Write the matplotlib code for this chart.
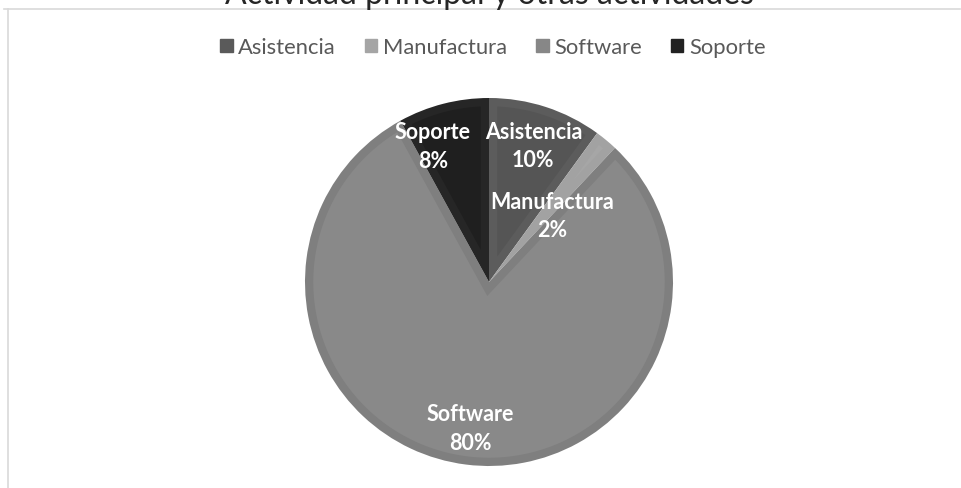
import matplotlib.pyplot as plt
from matplotlib.lines import Line2D
from matplotlib.patches import Polygon
import numpy as np

# Data
labels = ['Asistencia', 'Manufactura', 'Software', 'Soporte']
values = [10, 2, 80, 8]
title = 'Actividad principal y otras actividades'

# Styles
outer_cols = ['#5c5c5c', '#a2a2a2', '#7f7f7f', '#262626']
inner_cols = ['#555555', '#a6a6a6', '#898989', '#1f1f1f']
lab_dist = [0.78, 0.50, 0.80, 0.80]
lab_shift = [0, -4, 0, 8]  # degrees
bevel = 0.045  # bevel width, in pie radii

plt.rcParams['font.family'] = ['Lato', 'DejaVu Sans']

W, H = 961, 489
fig = plt.figure(figsize=(W / 100, H / 100), dpi=100)

# chart frame (partially visible)
fig.add_artist(Line2D([4 / W, 960 / W], [1 - 9.5 / H, 1 - 9.5 / H], color='#d9d9d9', lw=1.2))
fig.add_artist(Line2D([7.5 / W, 7.5 / W], [1 - 9.5 / H, 0], color='#d9d9d9', lw=1.2))

fig.text(489 / W, 1 - 4 / H, title, ha='center', va='baseline', fontsize=23, color='#262626')

cx, cy, r = 489, 283, 184
ax = fig.add_axes([(cx - r) / W, (H - cy - r) / H, 2 * r / W, 2 * r / H])

wedges, _ = ax.pie(values, colors=outer_cols, startangle=90, counterclock=False,
                   radius=1, wedgeprops=dict(linewidth=0))


def inset_wedge(t1, t2, d, rho):
    # wedge shrunk by d from both straight edges, arc at radius rho
    a1, a2 = np.deg2rad(t1), np.deg2rad(t2)
    half = (a2 - a1) / 2
    mid = (a1 + a2) / 2
    p = d / np.sin(half) * np.array([np.cos(mid), np.sin(mid)])
    ends = []
    for a in (a1, a2):
        u = np.array([np.cos(a), np.sin(a)])
        pu = p @ u
        s = -pu + np.sqrt(pu ** 2 - p @ p + rho ** 2)
        e = p + s * u
        ends.append(np.arctan2(e[1], e[0]))
    f1, f2 = ends
    while f2 < f1:
        f2 += 2 * np.pi
    arc = np.linspace(f1, f2, 200)
    pts = np.vstack([p, np.column_stack([rho * np.cos(arc), rho * np.sin(arc)])])
    return pts


for w, c in zip(wedges, inner_cols):
    pts = inset_wedge(w.theta1, w.theta2, bevel, 1 - bevel)
    ax.add_patch(Polygon(pts, closed=True, facecolor=c, edgecolor='none'))

total = sum(values)
for w, lab, v, d, s in zip(wedges, labels, values, lab_dist, lab_shift):
    ang = np.deg2rad((w.theta1 + w.theta2) / 2 + s)
    ax.text(d * np.cos(ang), d * np.sin(ang), f'{lab}\n{round(100 * v / total)}%',
            ha='center', va='center', color='white', fontsize=15.5, fontweight='bold',
            linespacing=1.45)

ax.set_xlim(-1, 1)
ax.set_ylim(-1, 1)
ax.set_aspect('equal')
ax.axis('off')

handles = [plt.Rectangle((0, 0), 1, 1, color=c) for c in ['#5a5a5a', '#a5a5a5', '#878787', '#222222']]
fig.legend(handles, labels, loc='center', bbox_to_anchor=(493 / W, 1 - 48 / H), ncol=4,
           frameon=False, fontsize=15.8, handlelength=0.55, handleheight=0.55,
           handletextpad=0.25, columnspacing=1.35, labelcolor='#595959')

fig.savefig('out.png', dpi=100)
